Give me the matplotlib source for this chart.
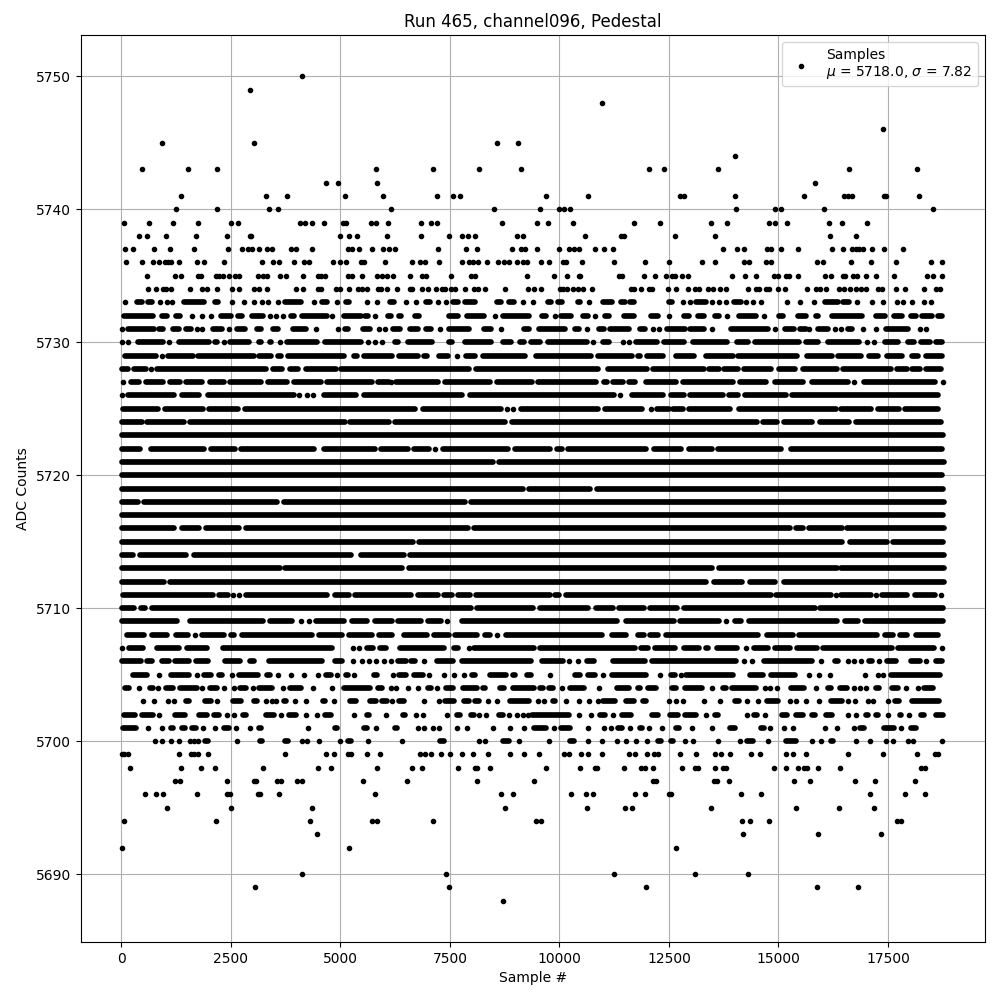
"""Pedestal samples for one channel. Values read off the picture, level by level.
Outer levels are single samples, the crowded levels are (first, last) runs because
the dots merge into bars there and only the gaps can be read."""
import matplotlib
matplotlib.use("Agg")
import matplotlib.pyplot as plt

# single samples per ADC level
s5750 = [4123]
s5749 = [2938]
s5748 = [10963]
s5746 = [17393]
s5745 = [931, 3029, 8569, 9048]
s5744 = [14018]
s5743 = [475, 1524, 2185, 5810, 7110, 8159, 9116, 12035, 12377, 13608, 16618, 18168]
s5742 = [4670, 4944, 5833, 15842]
s5741 = [1364, 3302, 3781, 5104, 5970, 7201, 7566, 7726, 9686, 10644, 12742, 12833, 13996, 15592, 16504, 16595,
         16686, 17416, 17461, 18214]
s5740 = [1250, 2185, 3371, 3576, 6152, 8501, 9550, 9983, 10097, 10234, 14041, 14930, 15067, 16048, 18533]
s5739 = [65, 635, 1182, 1752, 2504, 2664, 4078, 4192, 4351, 4625, 5058, 5126, 5696, 5810, 6084, 6836, 7064, 7201,
         8683, 9481, 9732, 10302, 11693, 12286, 13448, 13836, 14794, 14930, 15204, 16162, 16458, 17028]
s5738 = [407, 589, 1022, 1706, 2413, 2938, 2960, 4982, 5195, 5377, 6061, 6836, 7475, 7779, 7908, 8068, 9025, 9162,
         10576, 11404, 11465, 12628, 13540, 16184, 16777]
s5737 = [88, 270, 749, 1114, 1661, 2436, 2755, 2892, 2983, 3143, 3325, 3439, 3872, 3986, 4351, 5172, 5263, 5423,
         5719, 5970, 6107, 6244, 7224, 7862, 8113, 8911, 9116, 9208, 9481, 9983, 10211, 10325, 10439, 10804, 11024,
         11214, 13722, 14064, 14224, 14748, 14824, 15067, 15455, 16230, 16481, 16686, 16762, 16838, 16937, 17142,
         17416, 17849]
s5736 = [110, 475, 726, 863, 1000, 1068, 1136, 1319, 1729, 1889, 2345, 3211, 3462, 3599, 3941, 4169, 4283, 4830,
         4990, 5126, 5468, 5537, 6016, 6631, 6814, 6928, 7247, 7771, 7931, 8022, 8136, 8341, 8592, 8729, 8843, 9025,
         9162, 9253, 9572, 9755, 10074, 10150, 10507, 11237, 11959, 12491, 13243, 13562, 14224, 14330, 14710, 14839,
         15888, 16025, 16663, 17119, 17674, 18487, 18738]
s5735 = [589, 1228, 1364, 1752, 1820, 2162, 2231, 2322, 2459, 2596, 2687, 3120, 3234, 3333, 3622, 3758, 4146, 4488,
         4556, 4648, 5172, 5263, 5491, 5833, 5947, 6061, 6198, 6586, 6859, 6950, 7520, 7976, 8068, 9253, 9869, 10165,
         10439, 10477, 11351, 11427, 11921, 12172, 12422, 12567, 12635, 12787, 12924, 13950, 14231, 14497, 14900,
         14999, 15181, 15242, 15455, 16070, 16207, 16473, 16519, 16709, 16800, 16990, 17218, 17644, 18396, 18533,
         18723]
s5734 = [612, 794, 954, 1022, 1136, 1570, 1843, 1957, 2185, 2527, 2687, 3029, 3143, 3325, 3986, 4146, 4488, 4556,
         4898, 4990, 5195, 5400, 5491, 5605, 5856, 5924, 6061, 6289, 6586, 6631, 6859, 6996, 7178, 7315, 7384, 7520,
         7612, 7840, 8045, 8136, 8296, 8752, 9276, 9428, 9580, 10013, 10074, 10165, 10302, 10416, 10530, 10735, 11632,
         11708, 11860, 12050, 12111, 12468, 12650, 12924, 13091, 13175, 13380, 13494, 13654, 13813, 14315, 14482,
         14558, 14710, 14786, 14999, 15151, 15652, 15850, 15941, 16093, 16382, 16496, 16640, 16777, 16876, 16990,
         17271, 17370, 17689, 17894, 18328, 18601, 18677]
s5701 = [612, 931, 1866, 2140, 2618, 2938, 4260, 5810, 6768, 6905, 7102, 7247, 7657, 7900, 8478, 8866, 9192, 9869,
         10644, 11016, 11176, 11602, 12050, 12331, 13015, 13471, 14800, 15136, 15341, 16063, 16344, 16732, 17803]
s5700 = [772, 916, 1129, 1319, 1562, 1646, 1752, 2641, 4123, 4237, 4511, 4982, 5628, 6403, 8159, 8303, 9071, 9755,
         10652, 10963, 11305, 11510, 11738, 11990, 12856, 13053, 13608, 14117, 14771, 15759, 15964, 16777, 17096,
         17461, 17621, 17963, 18077, 18738]
s5699 = [4, 65, 156, 1319, 1577, 1646, 1737, 1980, 3736, 4670, 4853, 5172, 5248, 5605, 5902, 6814, 6928, 7057, 7292,
         7498, 7771, 8037, 8379, 8866, 9185, 9527, 10097, 10211, 10484, 10652, 10963, 11594, 11716, 11990, 12164,
         12240, 12742, 13106, 13540, 13699, 13904, 14383, 14588, 15181, 15341, 15637, 16595, 17393, 18168, 18571,
         18647]
s5698 = [202, 1364, 1820, 2140, 3234, 4488, 4784, 5833, 6631, 6859, 7680, 8083, 8128, 8410, 9686, 10462, 10819, 10864,
         11465, 11860, 11959, 12126, 12787, 13099, 13167, 13562, 13722, 13798, 14908, 15181, 15455, 15592, 15660,
         15911, 16412, 18244, 18343]
s5697 = [1228, 1342, 2413, 3029, 3082, 3553, 3652, 4009, 4123, 5514, 6517, 8113, 9413, 12126, 12202, 13517, 13593,
         13874, 15364, 15728, 16754, 17210, 18122]
s5696 = [544, 794, 954, 1729, 2413, 2489, 3120, 3173, 3599, 5788, 8660, 8934, 10256, 10598, 10758, 11716, 11944,
         12491, 12544, 14155, 14611, 17096, 17894, 18350]
s5695 = [1045, 2504, 4351, 8752, 10621, 11488, 11647, 13448, 15409, 16390, 17187]
s5694 = [65, 2162, 4306, 5719, 5833, 7110, 9458, 9572, 14178, 14360, 14794, 17704, 17796]
s5693 = [4465, 14201, 15911, 17347]
s5692 = [19, 5195, 12650]
s5690 = [4123, 7406, 11237, 13084, 14315]
s5689 = [3052, 7475, 11966, 15888, 16823]
s5688 = [8706]

# runs of merged samples per ADC level, (a, a) is a lone sample
r5733 = [(80, 80), (361, 468), (612, 688), (878, 878), (1030, 1030), (1152, 1152), (1425, 1874), (2132, 2208),
         (2527, 2527), (2801, 2801), (3029, 3029), (3211, 3211), (3348, 3348), (3576, 3576), (3743, 4093),
         (4397, 4397), (4587, 4693), (4929, 4929), (5126, 5195), (5613, 5613), (5833, 5833), (6137, 6228),
         (6502, 6502), (6730, 6730), (6943, 7034), (7232, 7232), (7414, 7414), (7566, 7680), (7832, 8083),
         (8569, 8668), (8858, 8964), (9162, 9162), (9405, 9405), (9747, 9808), (9960, 10051), (10416, 10477),
         (10667, 10667), (10986, 11199), (11400, 11500), (11600, 11710), (12506, 12567), (12810, 12810),
         (12977, 12977), (13114, 13342), (13479, 13479), (13631, 13631), (13813, 13813), (13988, 14140),
         (14269, 14269), (14421, 14421), (14611, 14611), (15189, 15189), (15500, 15500), (15812, 15812),
         (16070, 16370), (16480, 16620), (16800, 16800), (17142, 17142), (17393, 17393), (17712, 17712),
         (17841, 17841), (18054, 18054), (18320, 18320), (18472, 18472)]
r5732 = [(57, 711), (916, 1030), (1250, 1342), (1600, 1600), (1828, 1828), (2041, 2041), (2284, 2512), (2664, 2763),
         (2983, 3234), (3401, 3401), (3538, 3538), (3690, 3690), (3880, 3941), (4123, 4701), (4807, 4807),
         (5073, 5461), (5567, 5636), (5795, 5795), (6084, 6160), (6335, 6388), (6692, 6791), (7467, 7680),
         (7893, 8288), (8524, 8524), (8721, 9314), (9603, 9694), (9892, 9892), (10036, 10264), (10530, 10644),
         (10811, 10811), (11047, 11123), (11480, 11708), (12088, 12240), (12498, 12498), (12833, 12962),
         (13152, 13289), (13540, 13646), (13836, 13836), (14102, 14482), (14680, 14680), (15014, 15105),
         (15455, 15622), (15850, 15911), (16230, 16899), (17233, 17431), (17636, 17811), (18031, 18145),
         (18282, 18495), (18639, 18723)]
r5731 = [(4, 4), (156, 749), (863, 954), (1182, 1319), (1471, 1577), (1714, 1714), (1828, 1828), (2086, 2307),
         (2459, 2459), (2641, 2824), (3097, 3181), (3454, 3584), (3910, 4222), (4450, 4450), (4944, 4944),
         (5111, 5172), (5514, 5681), (5879, 5879), (6008, 6008), (6198, 6350), (6578, 6768), (6958, 7072),
         (7262, 7262), (7467, 7931), (8288, 8440), (8668, 8668), (9200, 9314), (9534, 10135), (10355, 10439),
         (10621, 10621), (10910, 11009), (11153, 11579), (11837, 11959), (12126, 12126), (12263, 12263),
         (12445, 12871), (12977, 13304), (13471, 13471), (13927, 14763), (14915, 14915), (15143, 15350),
         (15500, 15620), (15700, 15700), (15903, 16139), (16283, 16283), (16420, 16420), (16587, 16671),
         (16937, 16937), (17218, 17218), (17446, 17963), (18221, 18221), (18358, 18358)]
r5730 = [(4, 4), (156, 156), (384, 939), (1083, 1083), (1311, 2003), (2147, 2178), (2345, 2345), (2489, 2915),
         (3135, 3181), (3386, 3409), (3629, 3629), (3781, 4473), (4655, 5461), (5628, 5628), (5788, 5788),
         (5955, 5955), (6251, 6312), (6540, 7080), (7467, 7551), (7847, 8448), (8721, 8896), (9101, 9200),
         (9352, 9565), (9732, 10629), (10758, 10758), (11001, 11123), (11442, 11442), (11579, 11579), (11746, 12225),
         (12384, 12848), (13038, 13821), (14064, 14300), (14474, 15478), (15637, 15911), (16131, 16846),
         (17013, 17013), (17188, 17188), (17423, 17735), (17955, 18100), (18244, 18457), (18601, 18723)]
r5729 = [(80, 787), (924, 924), (1068, 1623), (1752, 3029), (3150, 3409), (3568, 3637), (3804, 5081), (5301, 5385),
         (5529, 6183), (6342, 6768), (6897, 6981), (7239, 7460), (7672, 7672), (7862, 8083), (8250, 9223),
         (9458, 10720), (10887, 11655), (11784, 11845), (11989, 12362), (12650, 13061), (13334, 13958),
         (14079, 15432), (15660, 16215), (16359, 16876), (17074, 17264), (17484, 17811), (18046, 18191),
         (18373, 18723)]
r5728 = [(4, 141), (285, 559), (680, 680), (817, 3295), (3462, 3675), (3842, 4040), (4214, 4891), (5020, 7931),
         (8090, 10872), (11100, 11997), (12126, 13289), (13418, 13631), (13760, 14087), (14216, 14824),
         (15006, 15371), (15569, 16344), (16481, 17560), (17712, 17925), (18046, 18229), (18373, 18700)]
r5727 = [(42, 42), (209, 407), (551, 954), (1098, 1334), (1463, 1828), (2018, 2345), (2489, 3196), (3348, 3789),
         (3948, 4549), (4693, 5727), (5856, 6107), (6160, 6160), (6266, 7224), (7376, 8425), (8569, 9375),
         (9504, 10842), (11009, 11085), (11214, 11450), (11586, 11731), (11966, 12666), (12810, 13973),
         (14132, 14710), (14930, 15554), (15774, 16595), (16716, 16716), (16952, 18571), (18745, 18745)]
r5726 = [(19, 19), (156, 1205), (1372, 1775), (1980, 3941), (4047, 4047), (4237, 4237), (4382, 4382), (4632, 5347),
         (5544, 7779), (7961, 11237), (11374, 11374), (11647, 12362), (12544, 12848), (12977, 13730), (13866, 14072),
         (14246, 15174), (15318, 18647)]
r5725 = [(34, 825), (992, 1851), (2010, 2664), (2831, 6692), (6882, 8668), (8812, 8812), (8934, 8934), (9124, 10872),
         (11039, 11883), (12080, 12080), (12232, 12500), (12597, 12818), (12954, 13882), (14094, 16314),
         (16435, 17104), (17271, 17758), (17894, 18647)]
r5724 = [(19, 460), (589, 1418), (1554, 5096), (5225, 6107), (6251, 8767), (8911, 14505), (14649, 14976),
         (15120, 15759), (15941, 16618), (16762, 18700)]
r5723 = [(4, 18745)]
r5722 = [(19, 430), (665, 1889), (2056, 2596), (2740, 4397), (4625, 5780), (5932, 6540), (6684, 7019), (7148, 7148),
         (7338, 8820), (8987, 9778), (9945, 10059), (10188, 11982), (12149, 12772), (12954, 13479), (13608, 15052),
         (15280, 18723)]
r5721 = [(4, 8486), (8622, 18776)]
r5720 = [(4, 18730)]
r5719 = [(19, 9170), (9306, 10705), (10857, 18745)]
r5718 = [(4, 369), (513, 3561), (3705, 7840), (7984, 18776)]
r5717 = [(19, 18760)]
r5716 = [(4, 1190), (1387, 1775), (1934, 2687), (2846, 7916), (8052, 15265), (15409, 15554), (15690, 16443),
         (16572, 18776)]
r5715 = [(19, 6662), (6800, 16458), (16625, 17469), (17606, 18745)]
r5714 = [(19, 270), (414, 1471), (1661, 5233), (5476, 6449), (6593, 18776)]
r5713 = [(19, 3614), (3728, 6403), (6555, 13471), (13638, 16344), (16435, 18776)]
r5712 = [(4, 962), (1106, 13350), (13517, 14163), (14360, 14923), (15120, 18776)]
r5711 = [(42, 2079), (2238, 2436), (2558, 2558), (2687, 2687), (2846, 4701), (4868, 5195), (5339, 6601), (6768, 7232),
         (7368, 7551), (7680, 7954), (8090, 9778), (9899, 9983), (10142, 14824), (14953, 16192), (16306, 16306),
         (16435, 17104), (17233, 17233), (17370, 17940), (18122, 18571), (18715, 18715)]
r5710 = [(19, 278), (437, 544), (703, 7969), (8113, 9398), (9557, 10644), (10826, 11222), (11358, 11921),
         (12065, 12681), (12833, 15835), (15956, 18745)]
r5709 = [(4, 1258), (1562, 3242), (3401, 3888), (4093, 4093), (4283, 4283), (4450, 5081), (5263, 5613), (5795, 6183),
         (6312, 6829), (6996, 7285), (7429, 7429), (7786, 11313), (11510, 12605), (12749, 13631), (13798, 13798),
         (14003, 14140), (14322, 16329), (16511, 16823), (16967, 18745)]
r5708 = [(133, 521), (688, 1030), (1250, 1524), (1684, 1684), (1828, 2345), (2512, 2573), (2755, 4359), (4518, 5043),
         (5187, 5727), (5886, 6183), (6449, 6966), (7140, 7475), (7619, 8121), (8303, 8410), (8577, 8577),
         (8774, 10971), (11206, 11518), (11784, 11921), (12065, 12240), (12422, 14543), (14748, 15341), (15478, 17256),
         (17423, 17621), (17765, 17940), (18145, 18647)]
r5707 = [(19, 19), (171, 498), (802, 1304), (1486, 1942), (2314, 4815), (5286, 5286), (5423, 5423), (5605, 5750),
         (5909, 6046), (6350, 7361), (7596, 7688), (7931, 7931), (8060, 9413), (9557, 11731), (11860, 12012),
         (12179, 12628), (12833, 13175), (13334, 13388), (13600, 14049), (14254, 14254), (14444, 14771),
         (14930, 15265), (15432, 15873), (16017, 17583), (17727, 18548), (18738, 18738)]
r5706 = [(4, 445), (589, 688), (931, 1091), (1220, 1547), (1691, 1980), (2360, 2710), (2930, 3029), (3363, 4587),
         (4883, 5043), (5286, 5286), (5499, 5499), (5643, 5643), (5810, 5810), (5993, 5993), (6160, 6160),
         (6312, 6487), (6608, 6700), (6912, 6912), (7201, 7574), (7771, 9340), (9595, 10082), (10211, 10211),
         (10416, 10416), (10621, 10781), (11214, 11959), (12103, 14034), (14216, 14216), (14406, 14406),
         (14672, 15759), (15964, 15964), (16283, 16367), (16587, 16587), (16724, 16724), (16891, 16891),
         (17066, 17142), (17294, 17294), (17484, 17674), (18031, 18229), (18373, 18373), (18586, 18723)]
r5705 = [(270, 574), (863, 863), (1136, 1547), (1714, 1714), (1881, 2056), (2238, 2307), (2527, 2527), (2694, 3128),
         (3325, 3386), (3576, 3576), (3872, 3872), (4169, 4169), (4488, 4488), (4670, 4792), (4921, 4921),
         (5119, 5180), (5309, 5309), (5765, 5841), (6198, 6198), (6342, 6487), (6684, 6890), (7019, 7019),
         (7353, 7353), (7581, 7581), (7817, 7817), (8000, 8068), (8425, 8774), (8934, 8995), (9253, 9352),
         (9785, 9785), (10355, 10462), (10644, 10804), (10986, 10986), (11191, 11974), (12293, 12293), (12544, 12643),
         (12772, 12772), (12886, 13958), (14345, 14657), (14839, 15386), (15698, 15698), (15918, 15918),
         (16184, 16184), (16982, 16982), (17271, 17271), (17393, 17393), (17575, 18685)]
r5704 = [(72, 179), (407, 407), (642, 711), (840, 840), (1022, 1167), (1334, 1722), (1843, 1843), (2033, 2193),
         (2345, 2345), (2573, 2573), (2717, 2839), (2998, 2998), (3150, 3447), (3690, 3690), (3857, 4108),
         (4374, 4374), (4807, 4807), (5073, 5674), (5856, 5955), (6160, 6160), (6274, 6274), (6540, 6540),
         (6768, 6768), (6996, 7072), (7201, 7201), (7406, 7574), (7794, 8121), (8250, 8311), (8645, 8744),
         (8949, 9413), (9557, 9626), (9762, 9854), (10059, 10059), (10241, 10553), (10895, 10895), (11305, 11579),
         (11784, 11845), (12027, 12202), (12559, 12658), (12863, 13251), (13471, 13471), (13722, 13798),
         (13950, 14490), (14687, 14687), (14801, 14801), (14976, 14976), (15295, 15592), (15865, 15865),
         (16131, 16192), (16412, 16557), (16724, 16724), (16861, 16861), (17005, 17005), (17218, 17294),
         (17598, 17735), (17917, 17917), (18183, 18183), (18320, 18533)]
r5703 = [(483, 483), (749, 749), (1053, 1053), (1197, 1197), (1478, 1547), (1904, 2041), (2193, 2193), (2558, 2740),
         (3029, 3105), (3310, 3310), (3432, 3432), (3538, 3538), (3705, 3766), (3964, 3964), (4222, 4222),
         (4602, 4655), (4853, 4853), (5225, 5362), (5681, 5803), (5947, 6054), (6183, 6183), (6342, 6449),
         (6912, 6912), (7239, 7239), (7391, 7589), (7824, 7931), (8075, 8166), (8364, 8364), (8569, 8569),
         (8873, 9314), (9519, 9519), (9656, 9656), (9861, 9907), (10150, 10150), (10439, 10439), (10667, 10667),
         (10872, 10872), (11001, 11275), (11518, 11693), (11913, 11974), (12506, 12506), (12658, 12658),
         (12810, 12810), (13289, 13289), (13654, 13654), (14003, 14102), (14292, 14292), (14543, 14543),
         (14748, 14999), (15272, 15272), (15409, 15409), (15637, 15637), (15934, 15934), (16207, 16443),
         (16595, 16595), (16747, 16747), (17043, 17043), (17165, 17165), (17507, 17507), (17651, 17758),
         (18054, 18670)]
r5702 = [(57, 316), (475, 711), (863, 863), (1212, 1456), (1782, 1950), (2124, 2216), (2413, 2413), (2573, 2573),
         (2770, 2846), (3302, 3485), (3644, 3644), (3819, 3994), (4222, 4222), (4458, 4458), (4640, 4792),
         (5309, 5309), (5605, 5651), (6038, 6038), (6426, 6479), (6730, 6730), (6890, 6890), (7429, 7429),
         (7665, 7726), (7984, 8052), (8159, 8159), (8318, 8318), (8622, 8706), (8858, 8858), (9025, 9025),
         (9177, 9177), (9291, 9291), (9367, 10226), (10454, 10454), (10712, 10712), (10925, 11032), (11214, 11214),
         (11419, 11632), (12103, 12240), (12521, 12696), (12863, 13122), (13334, 13334), (13547, 13608),
         (14292, 14292), (14444, 14505), (14687, 14687), (15082, 15204), (15409, 15569), (15774, 15835),
         (16093, 16230), (16595, 16595), (16777, 16777), (16990, 17036), (17218, 17279), (17507, 17507),
         (17765, 17803), (17986, 17986), (18244, 18320), (18586, 18746)]
r5701 = [(42, 331), (1121, 1167), (1372, 1456), (1600, 1699), (2337, 2459), (3135, 3188), (4876, 4921), (5537, 5605),
         (6244, 6297), (9413, 9694), (10036, 10241), (11336, 11427), (11837, 11883), (12650, 12726), (13882, 13996),
         (14596, 14672), (16861, 16945), (17400, 17644), (18016, 18145)]
r5700 = [(1912, 1980), (3158, 3219), (3736, 3804), (5172, 5248), (7277, 7361), (8706, 8843), (10241, 10325),
         (12240, 12316), (12536, 12597), (14292, 14421), (15166, 15394), (16192, 16245)]

point_rows = [(5750, s5750), (5749, s5749), (5748, s5748), (5746, s5746), (5745, s5745), (5744, s5744), (5743, s5743),
              (5742, s5742), (5741, s5741), (5740, s5740), (5739, s5739), (5738, s5738), (5737, s5737), (5736, s5736),
              (5735, s5735), (5734, s5734), (5701, s5701), (5700, s5700), (5699, s5699), (5698, s5698), (5697, s5697),
              (5696, s5696), (5695, s5695), (5694, s5694), (5693, s5693), (5692, s5692), (5690, s5690), (5689, s5689),
              (5688, s5688)]
run_rows = [(5733, r5733), (5732, r5732), (5731, r5731), (5730, r5730), (5729, r5729), (5728, r5728), (5727, r5727),
            (5726, r5726), (5725, r5725), (5724, r5724), (5723, r5723), (5722, r5722), (5721, r5721), (5720, r5720),
            (5719, r5719), (5718, r5718), (5717, r5717), (5716, r5716), (5715, r5715), (5714, r5714), (5713, r5713),
            (5712, r5712), (5711, r5711), (5710, r5710), (5709, r5709), (5708, r5708), (5707, r5707), (5706, r5706),
            (5705, r5705), (5704, r5704), (5703, r5703), (5702, r5702), (5701, r5701), (5700, r5700)]

xs, ys = [], []
for level, row in point_rows:
    xs += row
    ys += [level] * len(row)

fig, ax = plt.subplots(figsize=(10, 10))
for level, row in run_rows:
    for a, b in row:
        if a == b:
            xs.append(a)
            ys.append(level)
        else:
            ax.plot([a, b], [level, level], color="k", lw=4.1, solid_capstyle="round", zorder=2)

ax.scatter(xs, ys, marker=".", color="k", zorder=2, label="Samples\n$\\mu$ = 5718.0, $\\sigma$ = 7.82")
ax.set_title("Run 465, channel096, Pedestal")
ax.set_xlabel("Sample #")
ax.set_ylabel("ADC Counts")
ax.grid(True)
ax.legend(loc="upper right")
fig.subplots_adjust(left=0.0805, right=0.985, top=0.965, bottom=0.058)
fig.savefig("out.png", dpi=100)
